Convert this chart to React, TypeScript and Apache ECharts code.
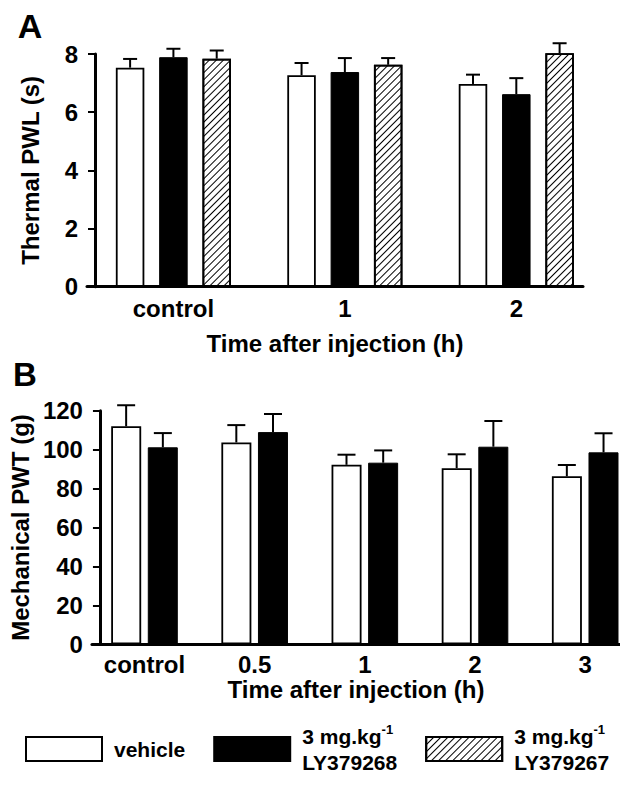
import React, { useEffect, useRef } from 'react';
import * as echarts from 'echarts';

const FONT = "'Liberation Sans', Arial, Helvetica, sans-serif";

// Panel A: Thermal PWL (s)
const categoriesA = ['control', '1', '2'];
const vehicleA = [7.53, 7.27, 6.97];
const vehicleAErr = [0.3, 0.42, 0.32];
const ly268A = [7.89, 7.38, 6.62];
const ly268AErr = [0.29, 0.48, 0.55];
const ly267A = [7.84, 7.63, 8.03];
const ly267AErr = [0.28, 0.23, 0.34];

// Panel B: Mechanical PWT (g)
const categoriesB = ['control', '0.5', '1', '2', '3'];
const vehicleB = [112.0, 103.7, 92.2, 90.5, 86.3];
const vehicleBErr = [10.8, 8.9, 5.2, 7.1, 5.8];
const ly268B = [101.2, 109.0, 93.3, 101.5, 98.6];
const ly268BErr = [7.3, 9.3, 6.3, 13.2, 9.8];

const legendNames = ['vehicle', 'LY379268', 'LY379267'];

const whiteStyle = { color: '#fff', borderColor: '#000', borderWidth: 1.8 };
const blackStyle = { color: '#000', borderColor: '#000', borderWidth: 1 };
const hatchStyle = {
  color: '#fff',
  borderColor: '#000',
  borderWidth: 1.8,
  decal: {
    symbol: 'rect',
    symbolSize: 1,
    color: '#000',
    dashArrayX: [1, 0],
    dashArrayY: [1, 3.2],
    rotation: -Math.PI / 4,
  },
};

function errSeries(id: string, gi: number, vals: number[], errs: number[], offset: number, capW: number) {
  return {
    type: 'custom',
    id,
    name: id,
    xAxisIndex: gi,
    yAxisIndex: gi,
    z: 5,
    silent: true,
    encode: { x: 0, y: 1 },
    data: vals.map((v, i) => [i, v, errs[i]]),
    renderItem: (params: any, api: any) => {
      const x = api.value(0);
      const y = api.value(1);
      const e = api.value(2);
      const p0 = api.coord([x, y]);
      const p1 = api.coord([x, y + e]);
      const cx = p0[0] + offset;
      return {
        type: 'group',
        children: [
          { type: 'line', shape: { x1: cx, y1: p0[1], x2: cx, y2: p1[1] }, style: { stroke: '#000', lineWidth: 2 } },
          { type: 'line', shape: { x1: cx - capW / 2, y1: p1[1], x2: cx + capW / 2, y2: p1[1] }, style: { stroke: '#000', lineWidth: 2 } },
        ],
      };
    },
  };
}

const labelStyle = { fontFamily: FONT, fontWeight: 'bold' as const, fontSize: 24, color: '#000' };

function yAxisCfg(gi: number, max: number, interval: number, name: string, nameGap: number) {
  return {
    type: 'value',
    gridIndex: gi,
    min: 0,
    max,
    interval,
    offset: -8,
    name,
    nameLocation: 'middle',
    nameRotate: 90,
    nameGap,
    nameTextStyle: { ...labelStyle },
    axisLine: { show: true, onZero: false, lineStyle: { color: '#000', width: 3 } },
    axisTick: { show: true, inside: false, length: 7, lineStyle: { color: '#000', width: 2 } },
    axisLabel: { ...labelStyle, margin: 17 },
    splitLine: { show: false },
    z: 10,
  };
}

function xAxisCfg(gi: number, min: number, max: number, cats: string[], margin: number, nameGap: number) {
  return {
    type: 'value',
    gridIndex: gi,
    min,
    max,
    name: 'Time after injection (h)',
    nameLocation: 'middle',
    nameGap,
    nameTextStyle: { ...labelStyle },
    axisLine: { show: true, onZero: false, lineStyle: { color: '#000', width: 3 } },
    axisTick: { show: false },
    splitLine: { show: false },
    z: 10,
    axisLabel: {
      ...labelStyle,
      margin,
      customValues: cats.map((_, i) => i),
      formatter: (v: number) => cats[Math.round(v)],
    },
  };
}

export default function App() {
  const ref = useRef<HTMLDivElement>(null);
  useEffect(() => {
    const chart = echarts.init(ref.current!, null, { renderer: 'svg' });
    const option: any = {
      animation: false,
      backgroundColor: '#fff',
      textStyle: { fontFamily: FONT },
      grid: [
        { left: 87, top: 54, width: 496, height: 232.7 },
        { left: 87, top: 410.7, width: 533, height: 233.6 },
      ],
      xAxis: [
        xAxisCfg(0, -0.504, 2.389, categoriesA, 10, 45),
        xAxisCfg(1, -0.477, 4.316, categoriesB, 8, 33),
      ],
      yAxis: [
        yAxisCfg(0, 8, 2, 'Thermal PWL (s)', 53),
        yAxisCfg(1, 120, 20, 'Mechanical PWT (g)', 61),
      ],
      legend: {
        data: legendNames,
        left: 25,
        top: 723,
        padding: 0,
        icon: 'rect',
        itemWidth: 76,
        itemHeight: 24,
        itemGap: 28,
        selectedMode: false,
        formatter: (n: string) => (n === 'vehicle' ? 'vehicle' : '3 mg.kg{sup|-1}\n' + n),
        textStyle: {
          fontFamily: FONT,
          fontWeight: 'bold',
          fontSize: 21,
          color: '#000',
          lineHeight: 26,
          padding: [0, 0, 0, 7],
          rich: {
            sup: { fontFamily: FONT, fontWeight: 'bold', fontSize: 13, color: '#000', verticalAlign: 'top', lineHeight: 14 },
          },
        },
      },
      graphic: [
        { type: 'text', x: 30, y: 26, style: { text: 'A', font: `bold 34px ${FONT}`, fill: '#000', align: 'center', verticalAlign: 'middle' } },
        { type: 'text', x: 25, y: 374, style: { text: 'B', font: `bold 33px ${FONT}`, fill: '#000', align: 'center', verticalAlign: 'middle' } },
      ],
      series: [
        { type: 'bar', name: 'vehicle', xAxisIndex: 0, yAxisIndex: 0, barWidth: 28.5, barGap: '52%', itemStyle: whiteStyle, data: vehicleA.map((v, i) => [i, v]) },
        { type: 'bar', name: 'LY379268', xAxisIndex: 0, yAxisIndex: 0, barWidth: 28.5, barGap: '52%', itemStyle: blackStyle, data: ly268A.map((v, i) => [i, v]) },
        { type: 'bar', name: 'LY379267', xAxisIndex: 0, yAxisIndex: 0, barWidth: 28.5, barGap: '52%', itemStyle: hatchStyle, data: ly267A.map((v, i) => [i, v]) },
        { type: 'bar', name: 'vehicle', xAxisIndex: 1, yAxisIndex: 1, barWidth: 30, barGap: '22%', itemStyle: whiteStyle, data: vehicleB.map((v, i) => [i, v]) },
        { type: 'bar', name: 'LY379268', xAxisIndex: 1, yAxisIndex: 1, barWidth: 30, barGap: '22%', itemStyle: blackStyle, data: ly268B.map((v, i) => [i, v]) },
        errSeries('errA0', 0, vehicleA, vehicleAErr, -43.3, 14),
        errSeries('errA1', 0, ly268A, ly268AErr, 0, 14),
        errSeries('errA2', 0, ly267A, ly267AErr, 43.3, 14),
        errSeries('errB0', 1, vehicleB, vehicleBErr, -18.35, 18),
        errSeries('errB1', 1, ly268B, ly268BErr, 18.35, 18),
      ],
    };
    chart.setOption(option);
    return () => chart.dispose();
  }, []);
  return <div ref={ref} style={{ position: 'absolute', left: 0, top: 0, width: 620, height: 786, background: '#fff' }} />;
}
